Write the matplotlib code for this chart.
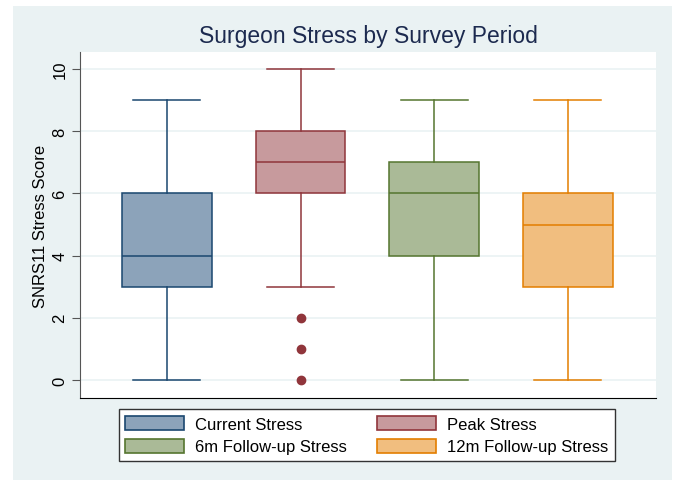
import matplotlib.pyplot as plt
from matplotlib.patches import Patch, Rectangle

plt.rcParams['font.family'] = ['Liberation Sans', 'DejaVu Sans']

# box plot summaries
groups = ['Current Stress', 'Peak Stress', '6m Follow-up Stress', '12m Follow-up Stress']
whislo = [0, 3, 0, 0]
q1 = [3, 6, 4, 3]
med = [4, 7, 6, 5]
q3 = [6, 8, 7, 6]
whishi = [9, 10, 9, 9]
fliers = [[], [2, 1, 0], [], []]

edge_cols = ['#1a476f', '#90353b', '#55752f', '#e37e00']
fill_cols = ['#8ca3ba', '#c79a9d', '#aaba97', '#f1be7f']

stats = []
for i in range(len(groups)):
    stats.append(dict(label=groups[i], whislo=whislo[i], q1=q1[i], med=med[i],
                      q3=q3[i], whishi=whishi[i], fliers=fliers[i]))

fig = plt.figure(figsize=(6.78, 4.81), dpi=100)
fig.patch.set_facecolor('white')
# light outer panel
fig.patches.append(Rectangle((13 / 678, 0), 659 / 678, 474 / 481, transform=fig.transFigure,
                             facecolor='#eaf2f3', edgecolor='none', zorder=-10))

ax = fig.add_axes([80 / 678, 82 / 481, 576 / 678, 346 / 481])
ax.set_facecolor('white')

for i, s in enumerate(stats):
    c = edge_cols[i]
    ax.bxp([s], positions=[i + 1], widths=0.67, capwidths=0.5, patch_artist=True,
           boxprops=dict(facecolor=fill_cols[i], edgecolor=c, linewidth=1.1),
           medianprops=dict(color=c, linewidth=1.1),
           whiskerprops=dict(color=c, linewidth=1.1),
           capprops=dict(color=c, linewidth=1.1),
           flierprops=dict(marker='o', markerfacecolor=c, markeredgecolor=c, markersize=6),
           zorder=3)

ax.set_xlim(0.35, 4.66)
ax.set_ylim(-0.58, 10.55)
ax.set_yticks([0, 2, 4, 6, 8, 10])
ax.set_xticks([])
ax.grid(axis='y', color='#eaf2f3', linewidth=1.2, zorder=0)
ax.set_axisbelow(True)

for sp in ['top', 'right']:
    ax.spines[sp].set_visible(False)
ax.spines['left'].set_color('#555555')
ax.spines['bottom'].set_color('black')
ax.tick_params(axis='y', length=6, color='#555555', labelsize=12, labelrotation=90, pad=3)
for lab in ax.get_yticklabels():
    lab.set_va('center')

ax.set_ylabel('SNRS11 Stress Score', fontsize=12, labelpad=3)
fig.text((80 + 656) / 2 / 678, 1 - 37 / 481, 'Surgeon Stress by Survey Period',
         ha='center', va='center', fontsize=16.5, color='#1c2a4f')

handles = [Patch(facecolor=fill_cols[i], edgecolor=edge_cols[i], linewidth=1.2, label=groups[i])
           for i in range(len(groups))]
# legend fills row by row in the reference
order = [0, 2, 1, 3]
leg = fig.legend(handles=[handles[k] for k in order], ncol=2, loc='center',
                 bbox_to_anchor=((114 + 620) / 2 / 678, 1 - 436 / 481),
                 fontsize=12, frameon=True, fancybox=False, edgecolor='#333333',
                 facecolor='white', framealpha=1,
                 handlelength=3.5, handleheight=0.95, columnspacing=1.8,
                 handletextpad=0.7, labelspacing=0.42, borderpad=0.4)
leg.get_frame().set_linewidth(1.0)

fig.savefig('out.png', dpi=100)
